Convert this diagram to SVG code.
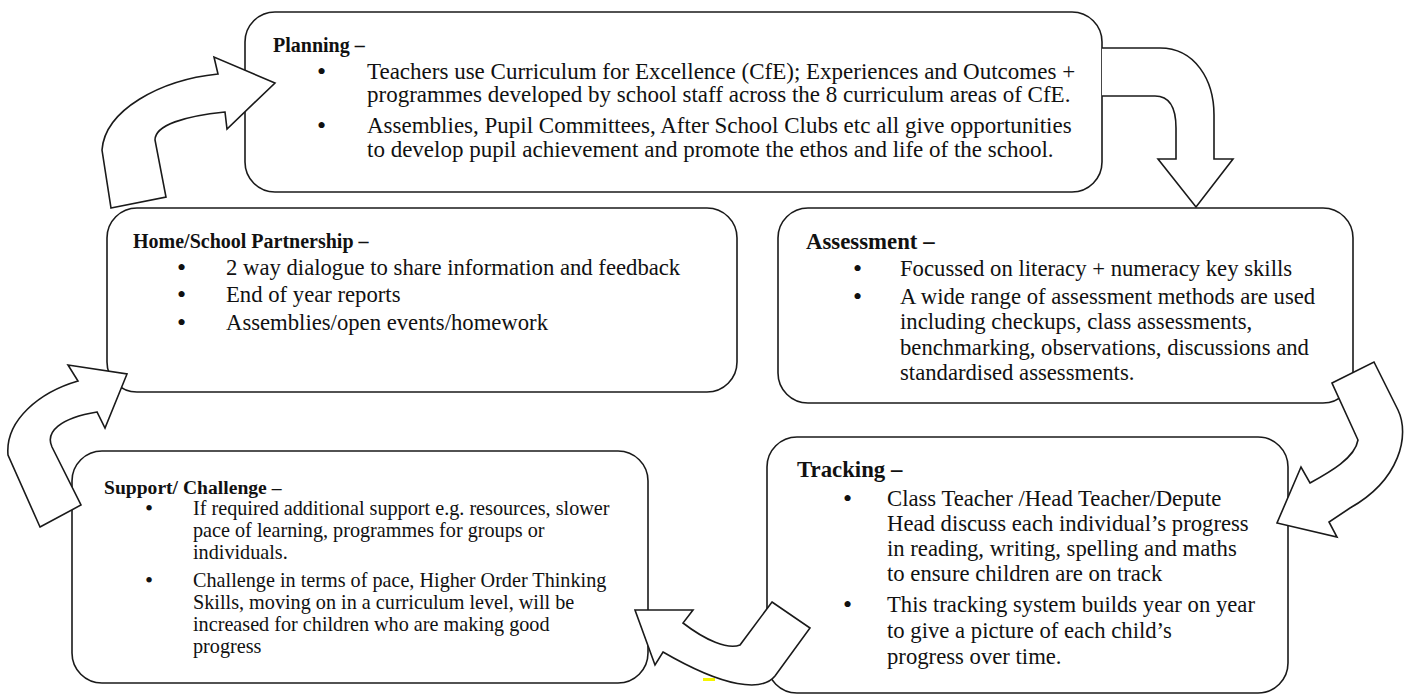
<svg xmlns="http://www.w3.org/2000/svg" width="1411" height="695" viewBox="0 0 1411 695">
<style>
.box{fill:#fff;stroke:#1a1a1a;stroke-width:1.6}
.arr{fill:#fff;stroke:#1a1a1a;stroke-width:1.6;stroke-linejoin:miter}
text{font-family:"Liberation Serif","Times New Roman",serif;fill:#111}
.t{font-weight:bold;font-size:20px}
.t2{font-weight:bold;font-size:22.8px}
.p{font-size:23px}
.b{font-size:22.7px}
.ts{font-weight:bold;font-size:19.6px}
.s{font-size:20.2px}
.d{font-size:26px}
.ds{font-size:23px}
</style>
<rect width="1411" height="695" fill="#fff"/>
<g id="planning">
<rect class="box" x="245" y="12" width="857" height="180" rx="30"/>
<text class="t" x="273" y="52">Planning –</text>
<text class="d" x="317" y="80">•</text>
<text class="p" x="367" y="79">Teachers use Curriculum for Excellence (CfE); Experiences and Outcomes +</text>
<text class="p" x="367" y="102">programmes developed by school staff across the 8 curriculum areas of CfE.</text>
<text class="d" x="317" y="134">•</text>
<text class="p" x="367" y="133">Assemblies, Pupil Committees, After School Clubs etc all give opportunities</text>
<text class="p" x="367" y="157">to develop pupil achievement and promote the ethos and life of the school.</text>
</g>
<g id="home">
<rect class="box" x="107" y="208" width="630" height="184" rx="30"/>
<text class="t" x="133" y="248">Home/School Partnership –</text>
<text class="d" x="177" y="276">•</text>
<text class="b" x="226" y="275">2 way dialogue to share information and feedback</text>
<text class="d" x="177" y="303">•</text>
<text class="b" x="226" y="302">End of year reports</text>
<text class="d" x="177" y="331">•</text>
<text class="b" x="226" y="330">Assemblies/open events/homework</text>
</g>
<g id="assessment">
<rect class="box" x="778" y="208" width="575" height="195" rx="30"/>
<text class="t2" x="806" y="249">Assessment –</text>
<text class="d" x="853" y="277">•</text>
<text class="b" x="900" y="276">Focussed on literacy + numeracy key skills</text>
<text class="d" x="853" y="305">•</text>
<text class="b" x="900" y="304">A wide range of assessment methods are used</text>
<text class="b" x="900" y="329">including checkups, class assessments,</text>
<text class="b" x="900" y="355">benchmarking, observations, discussions and</text>
<text class="b" x="900" y="380">standardised assessments.</text>
</g>
<g id="tracking">
<rect class="box" x="767" y="437" width="521" height="256" rx="30"/>
<text class="t2" x="797" y="477">Tracking –</text>
<text class="d" x="843" y="507">•</text>
<text class="b" x="887" y="506">Class Teacher /Head Teacher/Depute</text>
<text class="b" x="887" y="531">Head discuss each individual’s progress</text>
<text class="b" x="887" y="556">in reading, writing, spelling and maths</text>
<text class="b" x="887" y="581">to ensure children are on track</text>
<text class="d" x="843" y="613">•</text>
<text class="b" x="887" y="612">This tracking system builds year on year</text>
<text class="b" x="887" y="638">to give a picture of each child’s</text>
<text class="b" x="887" y="664">progress over time.</text>
</g>
<g id="support">
<rect class="box" x="72" y="451" width="576" height="232" rx="30"/>
<text class="ts" x="104" y="494">Support/ Challenge –</text>
<text class="ds" x="145" y="516">•</text>
<text class="s" x="193" y="515">If required additional support e.g. resources, slower</text>
<text class="s" x="193" y="537">pace of learning, programmes for groups or</text>
<text class="s" x="193" y="559">individuals.</text>
<text class="ds" x="145" y="588">•</text>
<text class="s" x="193" y="587">Challenge in terms of pace, Higher Order Thinking</text>
<text class="s" x="193" y="609">Skills, moving on in a curriculum level, will be</text>
<text class="s" x="193" y="631">increased for children who are making good</text>
<text class="s" x="193" y="653">progress</text>
</g>
<rect x="703" y="678" width="12" height="3" fill="#f5f500"/>
<g id="connectors">
<path class="arr" d="M1102,48 L1160,48 C1195,48 1214,80 1214,115 L1214,159 L1233,159 L1196,207 L1158,159 L1176,159 L1176,128 C1176,108 1170,96 1155,96 L1102,96"/>
<path class="arr" d="M1332,383 L1374,362 L1398,410 C1410,435 1400,480 1350,508 L1329,522 L1337,537 L1277,523 L1301,467 L1310,483 C1330,472 1355,458 1358,440 Z"/>
<path class="arr" d="M772,602 L810,628 L775,676 C762,692 725,688 663,652 L655,665 L635,610 L693,610 L683,623 C705,640 728,650 740,645 Z"/>
<path class="arr" d="M40,527 L81,505 L52,447 C45,432 60,418 97,412 L105,428 L127,374 L68,365 L78,381 C40,392 5,420 8,455 Z"/>
<path class="arr" d="M111,208 L166,197 L155,140 C155,125 185,116 225,112 L227,129 L275,83 L214,57 L218,74 C160,80 105,110 102,150 Z"/>
</g>
</svg>
